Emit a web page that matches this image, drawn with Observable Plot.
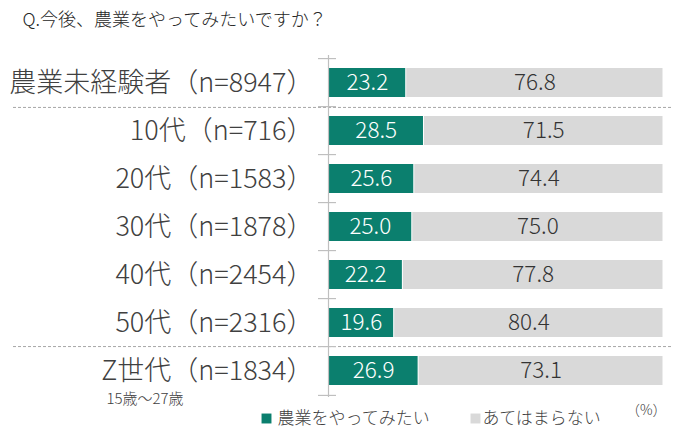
<!DOCTYPE html>
<html>
<head>
<meta charset="utf-8">
<script src="https://cdn.jsdelivr.net/npm/d3@7"></script>
<script src="https://cdn.jsdelivr.net/npm/@observablehq/plot@0.6"></script>
<style>
  html, body { margin: 0; padding: 0; background: #fff; }
  svg { display: block; }
</style>
</head>
<body>
<div id="chart"></div>
<script>
const title = "Q.今後、農業をやってみたいですか？";
const categories = ["農業未経験者（n=8947）", "10代（n=716）", "20代（n=1583）", "30代（n=1878）", "40代（n=2454）", "50代（n=2316）", "Z世代（n=1834）"];
const wantToFarm = [23.2, 28.5, 25.6, 25.0, 22.2, 19.6, 26.9];
const notApplicable = [76.8, 71.5, 74.4, 75.0, 77.8, 80.4, 73.1];
const seriesNames = ["農業をやってみたい", "あてはまらない"];
const subLabel = "15歳～27歳";
const unitLabel = "（%）";

const teal = "#0b7f6e";
const gray = "#d9d9d9";
const textColor = "#404040";
const font = "'Noto Sans CJK JP', 'Noto Sans', sans-serif";

const W = 680, H = 443;
const mT = 55, mB = 46, mL = 328, mR = 17;
const step = (H - mT - mB) / categories.length;
const pxPerUnit = (W - mL - mR) / 100;

const rows = [];
categories.forEach((c, i) => {
  rows.push({cat: c, series: seriesNames[0], value: wantToFarm[i]});
  rows.push({cat: c, series: seriesNames[1], value: notApplicable[i]});
});

const stackOpts = {x: "value", y: "cat", z: "series", order: seriesNames};
const valueText = (series, fill) =>
  Plot.text(rows, Plot.filter(d => d.series === series,
    Plot.stackX({...stackOpts, text: d => d.value.toFixed(1), fill, fontSize: 22.5, fontWeight: 300})));

const plot = Plot.plot({
  width: W, height: H,
  marginTop: mT, marginBottom: mB, marginLeft: mL, marginRight: mR,
  style: {fontFamily: font, color: textColor, background: "#fff"},
  x: {domain: [0, 100], axis: null},
  y: {domain: categories, paddingInner: 0.4, paddingOuter: 0.2, axis: null},
  color: {domain: seriesNames, range: [teal, gray]},
  marks: [
    // dashed separators
    Plot.ruleY([categories[0]], {y: d => d, dy: step / 2, x1: (13 - mL) / pxPerUnit, x2: (673 - mL) / pxPerUnit, stroke: "#a6a6a6", strokeDasharray: "3,2", strokeWidth: 1}),
    Plot.ruleY([categories[categories.length - 1]], {y: d => d, dy: -step / 2, x1: (13 - mL) / pxPerUnit, x2: (673 - mL) / pxPerUnit, stroke: "#a6a6a6", strokeDasharray: "3,2", strokeWidth: 1}),
    // bars
    Plot.barX(rows, Plot.stackX({...stackOpts, fill: "series", insetLeft: 0.5, insetRight: 0.5})),
    // axis line and ticks
    Plot.ruleX([0], {stroke: "#bfbfbf", strokeWidth: 1.2}),
    Plot.ruleY(categories, {y: d => d, dy: -step / 2, x1: -10 / pxPerUnit, x2: 8 / pxPerUnit, stroke: "#bfbfbf", strokeWidth: 1.2}),
    Plot.ruleY([categories[categories.length - 1]], {y: d => d, dy: step / 2, x1: -10 / pxPerUnit, x2: 8 / pxPerUnit, stroke: "#bfbfbf", strokeWidth: 1.2}),
    // value labels
    valueText(seriesNames[0], "white"),
    valueText(seriesNames[1], "#333333"),
    // category labels
    Plot.text(categories, {y: d => d, text: d => d, frameAnchor: "left", textAnchor: "end", dx: -15, fontSize: 27, fontWeight: 300, fill: textColor}),
    Plot.text([subLabel], {y: [categories[categories.length - 1]], text: d => d, frameAnchor: "left", textAnchor: "start", dx: 106 - mL, dy: 28, fontSize: 15, fontWeight: 300, fill: textColor}),
    // title
    Plot.text([title], {text: d => d, frameAnchor: "top-left", textAnchor: "start", lineAnchor: "middle", dx: 22 - mL, dy: 20 - mT, fontSize: 18, fontWeight: 300, fill: "#262626"}),
    // legend
    Plot.dot([seriesNames[0]], {frameAnchor: "bottom-left", dx: 266 - mL, dy: 21, symbol: "square", r: 5.6, fill: teal, stroke: null}),
    Plot.text([seriesNames[0]], {text: d => d, frameAnchor: "bottom-left", textAnchor: "start", lineAnchor: "middle", dx: 277 - mL, dy: 21, fontSize: 17, fontWeight: 300, fill: textColor}),
    Plot.dot([seriesNames[1]], {frameAnchor: "bottom-left", dx: 475 - mL, dy: 21, symbol: "square", r: 5.6, fill: gray, stroke: null}),
    Plot.text([seriesNames[1]], {text: d => d, frameAnchor: "bottom-left", textAnchor: "start", lineAnchor: "middle", dx: 482 - mL, dy: 21, fontSize: 17, fontWeight: 300, fill: textColor}),
    Plot.text([unitLabel], {text: d => d, frameAnchor: "bottom-right", textAnchor: "end", lineAnchor: "middle", dx: 3, dy: 13, fontSize: 14, fontWeight: 300, fill: textColor})
  ]
});
document.getElementById("chart").appendChild(plot);
</script>
</body>
</html>
